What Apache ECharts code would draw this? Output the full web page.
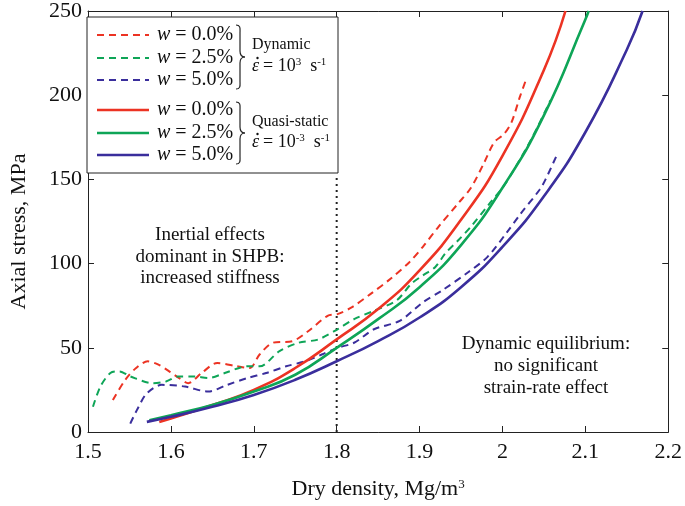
<!DOCTYPE html>
<html><head><meta charset="utf-8">
<script src="https://cdn.jsdelivr.net/npm/echarts@6/dist/echarts.min.js"></script>
<style>html,body{margin:0;padding:0;background:#fff}#c{width:685px;height:506px}</style>
</head><body><div id="c"></div>
<script>
// ---- data ----
const xTickLabels = ['1.5','1.6','1.7','1.8','1.9','2','2.1','2.2'];
const yTickLabels = ['0','50','100','150','200','250'];
// Dynamic (SHPB), dashed
const dynW0 = [[1.530,19],[1.545,31],[1.558,38],[1.572,42],[1.585,40],[1.598,36],[1.610,32],[1.621,29],[1.637,35],[1.656,41],[1.680,39],[1.695,38],[1.707,46],[1.723,53],[1.747,54],[1.766,60],[1.789,69],[1.801,70],[1.818,74],[1.841,82],[1.865,91],[1.888,101],[1.904,110],[1.923,122],[1.947,136],[1.962,145],[1.978,160],[1.990,172],[2.002,177],[2.011,184],[2.021,199],[2.029,210]];
const dynW25 = [[1.506,15],[1.515,27],[1.527,35],[1.538,36],[1.551,33],[1.578,29],[1.594,30],[1.609,33],[1.628,33],[1.645,32],[1.665,35],[1.692,39],[1.707,39],[1.731,48],[1.754,53],[1.778,55],[1.801,61],[1.821,67],[1.845,72],[1.872,78],[1.890,88],[1.904,93],[1.919,98],[1.931,106],[1.947,114],[1.962,122],[1.985,136],[2.000,145],[2.013,155],[2.036,175],[2.058,197]];
const dynW50 = [[1.551,5],[1.560,14],[1.571,23],[1.589,28],[1.617,27],[1.645,24],[1.668,28],[1.692,32],[1.715,35],[1.739,39],[1.762,42],[1.782,46],[1.801,50],[1.821,53],[1.845,61],[1.876,66],[1.904,77],[1.927,84],[1.959,95],[1.982,104],[2.006,119],[2.021,129],[2.045,144],[2.052,150],[2.067,166]];
// Quasi-static, solid
const qsW0 = [[1.586,6],[1.6,8],[1.65,16],[1.7,25],[1.75,38],[1.8,55],[1.85,73],[1.9,96],[1.95,126],[2.0,164],[2.05,215],[2.076,250]];
const qsW25 = [[1.574,7],[1.6,10],[1.65,16],[1.7,24],[1.75,34],[1.8,50],[1.85,67],[1.9,86],[1.95,111],[2.0,145],[2.05,188],[2.1,245],[2.104,250]];
const qsW50 = [[1.571,6],[1.6,9],[1.65,15],[1.7,22],[1.75,31],[1.8,42],[1.85,54],[1.9,68],[1.95,86],[2.0,110],[2.05,140],[2.1,178],[2.15,227],[2.169,250]];
// dotted divider at 1.8
const divider = [[1.8,0],[1.8,152]];
const seriesNames = ['w = 0.0%','w = 2.5%','w = 5.0%'];

// ---- style ----
const RED = '#ec3323', GREEN = '#0ea557', BLUE = '#3a2e9c';
const FONT = 'Liberation Serif';
const chart = echarts.init(document.getElementById('c'));

function axisCommon(show) {
  return {
    axisLine: {show: true, onZero: false, lineStyle: {color: '#222', width: 1}},
    axisTick: {show: true, inside: true, length: 6, lineStyle: {color: '#222'}},
    splitLine: {show: false},
    axisLabel: {show: show}
  };
}
const dashed = (name, data, color) => ({
  name, type: 'line', data, showSymbol: false, smooth: 0.3,
  lineStyle: {color, width: 2, type: [7, 5]}, itemStyle: {color}, z: 3, silent: true
});
const solid = (name, data, color) => ({
  name, type: 'line', data, showSymbol: false, smooth: 0.5,
  lineStyle: {color, width: 2.6}, itemStyle: {color}, z: 4, silent: true
});

// legend graphic
const L = {x: 87, y: 17, w: 251, h: 156};
const rowsY = [35, 58, 80, 110, 133, 155];
const rowColors = [RED, GREEN, BLUE, RED, GREEN, BLUE];
const legendEls = [{type: 'rect', shape: {x: L.x, y: L.y, width: L.w, height: L.h},
  style: {fill: '#fff', stroke: '#222', lineWidth: 1}, z: 100}];
rowsY.forEach((y, i) => {
  legendEls.push({type: 'line', shape: {x1: 97, y1: y, x2: 149, y2: y},
    style: {stroke: rowColors[i], lineWidth: i < 3 ? 2 : 2.6, lineDash: i < 3 ? [7, 5] : null}, z: 101});
  const lab = seriesNames[i % 3].replace('w', '{i|w}');
  legendEls.push({type: 'text', x: 157, y: y, z: 101,
    style: {text: lab, fontFamily: FONT, fontSize: 20, fill: '#111', textVerticalAlign: 'middle',
      rich: {i: {fontFamily: FONT, fontSize: 20, fontStyle: 'italic'}}}});
});
function brace(x0, yTop, yBot) {
  const ym = (yTop + yBot) / 2;
  const st = {stroke: '#222', lineWidth: 1.2, fill: null};
  return [
    {type: 'bezierCurve', shape: {x1: x0, y1: yTop, cpx1: x0 + 5, cpy1: yTop, cpx2: x0 + 4, cpy2: yTop + 4, x2: x0 + 4, y2: yTop + 8}, style: st, z: 101},
    {type: 'line', shape: {x1: x0 + 4, y1: yTop + 8, x2: x0 + 4, y2: ym - 6}, style: st, z: 101},
    {type: 'bezierCurve', shape: {x1: x0 + 4, y1: ym - 6, cpx1: x0 + 4, cpy1: ym - 1, cpx2: x0 + 6, cpy2: ym, x2: x0 + 9, y2: ym}, style: st, z: 101},
    {type: 'bezierCurve', shape: {x1: x0 + 9, y1: ym, cpx1: x0 + 6, cpy1: ym, cpx2: x0 + 4, cpy2: ym + 1, x2: x0 + 4, y2: ym + 6}, style: st, z: 101},
    {type: 'line', shape: {x1: x0 + 4, y1: ym + 6, x2: x0 + 4, y2: yBot - 8}, style: st, z: 101},
    {type: 'bezierCurve', shape: {x1: x0 + 4, y1: yBot - 8, cpx1: x0 + 4, cpy1: yBot - 4, cpx2: x0 + 5, cpy2: yBot, x2: x0, y2: yBot}, style: st, z: 101}
  ];
}
legendEls.push(...brace(236, 25, 89), ...brace(236, 102, 164));
const smallRich = {
  sup: {fontFamily: FONT, fontSize: 11, verticalAlign: 'top', padding: [0, 0, 8, 0]}
};
const rateTxt = (t, y) => [
  {type: 'text', x: 252, y: y, z: 101,
    style: {text: 'ε', fontFamily: FONT, fontSize: 18, fontStyle: 'italic', fill: '#111', textVerticalAlign: 'middle'}},
  {type: 'circle', shape: {cx: 257.5, cy: y - 8, r: 1.2}, style: {fill: '#111'}, z: 101},
  {type: 'text', x: 263, y: y, z: 101,
    style: {text: t, fontFamily: FONT, fontSize: 18, fill: '#111', textVerticalAlign: 'middle', rich: smallRich}}
];
legendEls.push(
  {type: 'text', x: 252, y: 45, z: 101, style: {text: 'Dynamic', fontFamily: FONT, fontSize: 16, fill: '#111', textVerticalAlign: 'middle'}},
  ...rateTxt('= 10{sup|3}  s{sup|-1}', 66),
  {type: 'text', x: 252, y: 122, z: 101, style: {text: 'Quasi-static', fontFamily: FONT, fontSize: 16, fill: '#111', textVerticalAlign: 'middle'}},
  ...rateTxt('= 10{sup|-3}  s{sup|-1}', 142)
);
// annotations
legendEls.push(
  {type: 'text', x: 210, y: 257, z: 50, style: {text: 'Inertial effects\ndominant in SHPB:\nincreased stiffness',
    fontFamily: FONT, fontSize: 19, lineHeight: 21.5, fill: '#111', textAlign: 'center', textVerticalAlign: 'middle'}},
  {type: 'text', x: 546, y: 366, z: 50, style: {text: 'Dynamic equilibrium:\nno significant\nstrain-rate effect',
    fontFamily: FONT, fontSize: 19, lineHeight: 22, fill: '#111', textAlign: 'center', textVerticalAlign: 'middle'}}
);

const option = {
  backgroundColor: '#fff',
  animation: false,
  grid: {left: 77, right: 13, top: 7, bottom: 74, containLabel: false},
  xAxis: [
    Object.assign(axisCommon(true), {
      type: 'value', min: 1.5, max: 2.2, interval: 0.1, position: 'bottom',
      axisLabel: {show: true, fontFamily: FONT, fontSize: 22, color: '#111', margin: 9,
        formatter: v => xTickLabels[Math.round((v - 1.5) / 0.1)]},
      name: 'Dry density, Mg/m{sup|3}', nameLocation: 'middle', nameGap: 46,
      nameTextStyle: {fontFamily: FONT, fontSize: 22, color: '#111',
        rich: {sup: {fontFamily: FONT, fontSize: 13, verticalAlign: 'top', padding: [0, 0, 10, 0]}}}
    }),
    Object.assign(axisCommon(false), {type: 'value', min: 1.5, max: 2.2, interval: 0.1, position: 'top'})
  ],
  yAxis: [
    Object.assign(axisCommon(true), {
      type: 'value', min: 0, max: 250, interval: 50, position: 'left',
      axisLabel: {show: true, fontFamily: FONT, fontSize: 22, color: '#111', margin: 6,
        formatter: v => yTickLabels[Math.round(v / 50)]},
      name: 'Axial stress, MPa', nameLocation: 'middle', nameGap: 58,
      nameTextStyle: {fontFamily: FONT, fontSize: 22, color: '#111', padding: [0, 20, 0, 0]}
    }),
    Object.assign(axisCommon(false), {type: 'value', min: 0, max: 250, interval: 50, position: 'right'})
  ],
  series: [
    {name: 'divider', type: 'line', data: divider, showSymbol: false, silent: true, z: 2,
      lineStyle: {color: '#222', width: 2, type: [2, 4]}},
    dashed('Dynamic ' + seriesNames[0], dynW0, RED),
    dashed('Dynamic ' + seriesNames[1], dynW25, GREEN),
    dashed('Dynamic ' + seriesNames[2], dynW50, BLUE),
    solid('Quasi-static ' + seriesNames[0], qsW0, RED),
    solid('Quasi-static ' + seriesNames[1], qsW25, GREEN),
    solid('Quasi-static ' + seriesNames[2], qsW50, BLUE)
  ],
  graphic: {elements: legendEls}
};
chart.setOption(option);
</script>
</body></html>
